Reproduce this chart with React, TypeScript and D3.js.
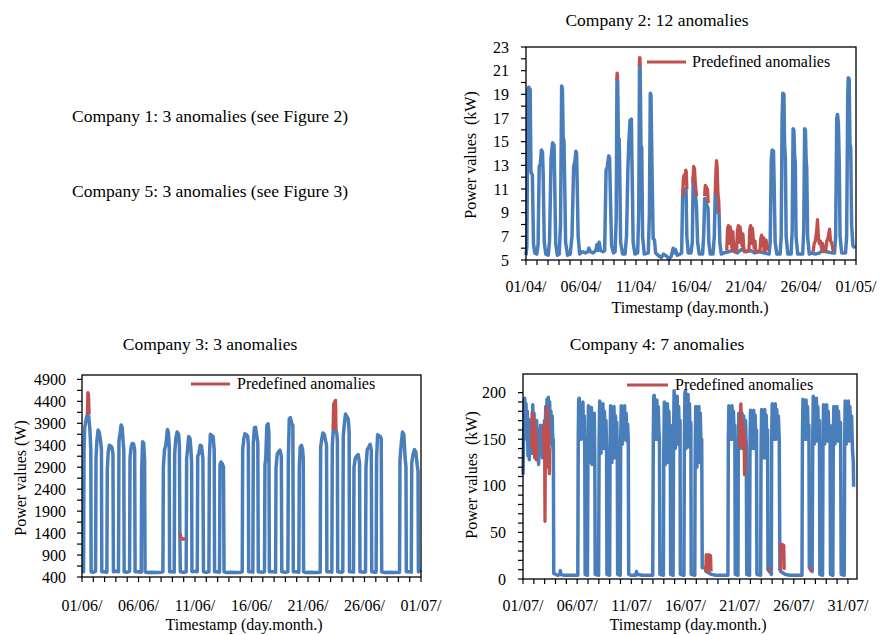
import React from 'react';
import * as d3 from 'd3';

type Pt = [number, number];

const FONT = '"Liberation Serif", "Times New Roman", serif';
const BLUE = '#4a7ebb';
const RED = '#c0504d';

// ---------- Company 2 (April, kW) ----------
const c2XLabels = ['01/04/', '06/04/', '11/04/', '16/04/', '21/04/', '26/04/', '01/05/'];
const c2YTicks = [5, 7, 9, 11, 13, 15, 17, 19, 21, 23];
const c2Blue: Pt[] = [
  [0.0, 5.4], [0.08, 6.2], [0.17, 19.4], [0.25, 19.6], [0.38, 19.4], [0.45, 12.4], [0.58, 12.2], [0.68, 6.4], [0.8, 5.6],
  [0.98, 5.5], [1.1, 6.3], [1.2, 12.9], [1.3, 13.1], [1.4, 14.3], [1.5, 14.1], [1.56, 12.3], [1.66, 6.5], [1.8, 5.5],
  [2.02, 5.4], [2.14, 6.6], [2.28, 13.6], [2.42, 14.9], [2.55, 14.7], [2.6, 12.1], [2.7, 6.4], [2.85, 5.4],
  [3.02, 5.5], [3.14, 8.0], [3.24, 19.7], [3.31, 19.5], [3.38, 15.3], [3.45, 15.1], [3.5, 12.5], [3.6, 6.5], [3.78, 5.4],
  [4.02, 5.5], [4.18, 7.0], [4.33, 12.9], [4.45, 13.3], [4.53, 14.2], [4.6, 14.0], [4.65, 11.6], [4.74, 7.0], [4.88, 5.5],
  [5.1, 5.7], [5.4, 5.6], [5.62, 5.7], [5.72, 6.0], [5.84, 5.7], [6.1, 5.6], [6.35, 5.8], [6.45, 6.3], [6.55, 5.8], [6.65, 6.5], [6.78, 5.8], [7.0, 5.7],
  [7.15, 5.8], [7.28, 12.6], [7.4, 12.9], [7.52, 13.8], [7.6, 13.6], [7.66, 11.0], [7.78, 6.2], [7.95, 5.6],
  [8.1, 5.7], [8.2, 8.5], [8.27, 20.3], [8.33, 20.1], [8.4, 15.3], [8.47, 15.2], [8.52, 12.5], [8.6, 6.5], [8.78, 5.5],
  [9.0, 5.5], [9.14, 7.0], [9.26, 12.6], [9.35, 15.0], [9.46, 16.8], [9.58, 16.9], [9.64, 13.0], [9.74, 6.5], [9.9, 5.5],
  [10.15, 5.6], [10.25, 9.0], [10.32, 21.5], [10.38, 21.3], [10.45, 14.7], [10.52, 14.5], [10.6, 7.0], [10.75, 5.5],
  [11.12, 5.6], [11.22, 9.0], [11.3, 19.1], [11.36, 18.9], [11.46, 12.5], [11.56, 6.8], [11.68, 6.7], [11.78, 5.6],
  [12.0, 5.4], [12.3, 5.2], [12.5, 5.5], [12.8, 5.3], [13.0, 5.1], [13.2, 5.3], [13.38, 6.0], [13.48, 5.6], [13.58, 5.9], [13.75, 5.4], [14.0, 5.5],
  [14.15, 5.6], [14.24, 10.4], [14.38, 10.4], [14.48, 11.0], [14.55, 11.0], [14.62, 7.0], [14.75, 5.6],
  [15.0, 5.6], [15.12, 6.5], [15.2, 12.0], [15.3, 12.0], [15.42, 10.4], [15.5, 9.5], [15.6, 6.5], [15.75, 5.5],
  [16.05, 5.5], [16.15, 7.0], [16.25, 10.2], [16.35, 10.0], [16.45, 9.6], [16.55, 9.4], [16.62, 6.5], [16.75, 5.5],
  [17.0, 5.5], [17.12, 7.0], [17.2, 10.6], [17.3, 10.5], [17.45, 9.0], [17.55, 9.0], [17.62, 6.5], [17.75, 5.5],
  [18.0, 5.6], [18.4, 5.7], [18.8, 5.8], [19.2, 5.6], [19.6, 5.9], [20.0, 5.7], [20.4, 5.8], [20.8, 5.6], [21.2, 5.7], [21.6, 5.6], [22.1, 5.5],
  [22.2, 6.5], [22.3, 13.5], [22.38, 14.3], [22.5, 14.2], [22.55, 11.8], [22.65, 6.5], [22.8, 5.5],
  [23.1, 5.5], [23.2, 7.0], [23.28, 17.0], [23.35, 19.1], [23.45, 19.0], [23.5, 15.0], [23.58, 13.5], [23.65, 7.0], [23.8, 5.5],
  [24.1, 5.5], [24.2, 7.5], [24.28, 16.1], [24.35, 16.0], [24.42, 13.8], [24.48, 13.2], [24.55, 7.0], [24.7, 5.5],
  [25.15, 5.5], [25.25, 7.5], [25.33, 16.1], [25.4, 16.0], [25.47, 13.3], [25.52, 12.8], [25.6, 7.0], [25.75, 5.5],
  [26.0, 5.6], [26.3, 5.5], [26.7, 5.6], [27.1, 6.0], [27.3, 5.7], [27.8, 5.6],
  [28.05, 5.6], [28.15, 7.0], [28.25, 17.0], [28.32, 17.3], [28.4, 16.5], [28.48, 13.0], [28.55, 7.0], [28.7, 5.6],
  [29.05, 5.6], [29.15, 7.0], [29.25, 19.0], [29.3, 20.4], [29.38, 20.3], [29.45, 14.8], [29.52, 14.5], [29.6, 8.0], [29.72, 6.2], [29.92, 6.0],
];
const c2Red: Pt[][] = [
  [[8.26, 20.2], [8.28, 20.8], [8.31, 20.7], [8.32, 20.2]],
  [[10.31, 21.4], [10.33, 22.1], [10.36, 22.1], [10.38, 21.4]],
  [[14.24, 10.4], [14.3, 11.8], [14.38, 12.2], [14.45, 11.5], [14.52, 12.6], [14.58, 12.4], [14.62, 11.0]],
  [[15.18, 11.5], [15.24, 12.9], [15.32, 12.7], [15.38, 11.6], [15.44, 11.0], [15.5, 10.4]],
  [[16.24, 10.4], [16.3, 11.3], [16.38, 11.2], [16.44, 10.8], [16.5, 11.0], [16.56, 9.8]],
  [[17.2, 10.6], [17.26, 12.4], [17.32, 13.4], [17.38, 12.8], [17.45, 10.6], [17.52, 10.0], [17.56, 9.0]],
  [[18.25, 5.8], [18.32, 7.6], [18.4, 7.9], [18.48, 6.4], [18.56, 7.8], [18.64, 7.2], [18.72, 6.0], [18.8, 7.4], [18.9, 6.0], [18.95, 5.7],
   [19.15, 5.8], [19.22, 7.5], [19.3, 7.9], [19.38, 6.5], [19.46, 7.8], [19.55, 7.0], [19.64, 6.2], [19.72, 7.2], [19.8, 6.0], [19.86, 5.7],
   [20.27, 5.8], [20.34, 7.6], [20.42, 7.9], [20.5, 6.4], [20.58, 7.7], [20.66, 6.8], [20.74, 6.0], [20.82, 6.6], [20.88, 5.7],
   [21.27, 5.8], [21.34, 6.8], [21.42, 7.1], [21.5, 6.2], [21.58, 6.9], [21.64, 5.8], [21.73, 5.8], [21.8, 6.7], [21.88, 6.5], [21.96, 5.8]],
  [[26.1, 5.7], [26.2, 6.4], [26.3, 6.6], [26.42, 7.4], [26.5, 8.4], [26.58, 7.0], [26.66, 6.4], [26.76, 6.6], [26.86, 6.0], [26.96, 6.4], [27.06, 5.7],
   [27.25, 5.8], [27.34, 6.6], [27.44, 6.8], [27.52, 7.2], [27.6, 7.6], [27.68, 6.6], [27.78, 6.5], [27.88, 6.0], [27.94, 5.7]],
];

// ---------- Company 3 (June, W) ----------
const c3XLabels = ['01/06/', '06/06/', '11/06/', '16/06/', '21/06/', '26/06/', '01/07/'];
const c3YTicks = [400, 900, 1400, 1900, 2400, 2900, 3400, 3900, 4400, 4900];
const c3Blue: Pt[] = [
  [0.0, 540], [0.14, 520], [0.18, 3300], [0.24, 3800], [0.34, 3950], [0.45, 4080], [0.6, 4060], [0.7, 3750], [0.78, 3300], [0.81, 520],
  [1.0, 510], [1.2, 530], [1.24, 3100], [1.32, 3500], [1.42, 3745], [1.52, 3700], [1.62, 3550], [1.72, 3300], [1.75, 520],
  [2.0, 520], [2.2, 510], [2.24, 2850], [2.32, 3250], [2.42, 3400], [2.55, 3380], [2.65, 3350], [2.74, 3200], [2.78, 520],
  [3.0, 530], [3.23, 520], [3.27, 3500], [3.36, 3650], [3.46, 3860], [3.56, 3800], [3.66, 3400], [3.7, 3300], [3.73, 520],
  [4.0, 510], [4.21, 530], [4.25, 3100], [4.34, 3350], [4.44, 3440], [4.56, 3430], [4.66, 3300], [4.7, 520],
  [5.0, 520], [5.24, 510], [5.28, 2800], [5.36, 3480], [5.46, 3450], [5.54, 3050], [5.58, 520],
  [5.8, 500], [6.2, 510], [6.6, 500], [7.0, 510], [7.16, 520],
  [7.2, 2900], [7.3, 3300], [7.42, 3400], [7.56, 3760], [7.64, 3700], [7.72, 3400], [7.75, 520],
  [8.0, 520], [8.16, 510], [8.2, 3200], [8.3, 3550], [8.42, 3700], [8.55, 3650], [8.62, 3400], [8.66, 1400], [8.7, 520],
  [9.0, 510], [9.22, 520], [9.26, 3100], [9.34, 3300], [9.44, 3600], [9.56, 3550], [9.64, 3300], [9.7, 3000], [9.73, 520],
  [10.0, 530], [10.2, 520], [10.24, 3150], [10.34, 3200], [10.46, 3400], [10.58, 3380], [10.7, 3100], [10.75, 520],
  [11.0, 510], [11.23, 520], [11.27, 3100], [11.36, 3650], [11.48, 3620], [11.6, 3600], [11.7, 3300], [11.73, 520],
  [12.0, 520], [12.17, 510], [12.21, 2950], [12.3, 3020], [12.42, 2980], [12.52, 2900], [12.57, 520],
  [12.8, 500], [13.2, 510], [13.6, 500], [14.0, 510], [14.18, 520],
  [14.22, 3300], [14.32, 3550], [14.42, 3660], [14.56, 3640], [14.66, 3600], [14.72, 3400], [14.75, 520],
  [15.0, 520], [15.12, 510], [15.16, 3450], [15.26, 3800], [15.36, 3810], [15.48, 3600], [15.56, 3450], [15.6, 520],
  [16.0, 510], [16.15, 520], [16.19, 2950], [16.26, 3100], [16.36, 3850], [16.46, 3890], [16.54, 3700], [16.58, 520],
  [17.0, 520], [17.13, 510], [17.17, 2900], [17.28, 3200], [17.4, 3250], [17.52, 3290], [17.64, 3150], [17.68, 520],
  [18.0, 510], [18.22, 520], [18.26, 3050], [18.34, 4000], [18.44, 4030], [18.56, 3900], [18.66, 3850], [18.7, 520],
  [19.0, 520], [19.19, 510], [19.23, 2900], [19.31, 3350], [19.42, 3400], [19.52, 3300], [19.58, 3100], [19.61, 520],
  [19.8, 500], [20.2, 510], [20.6, 500], [21.08, 510],
  [21.12, 3350], [21.22, 3550], [21.32, 3680], [21.44, 3650], [21.56, 3500], [21.64, 3400], [21.67, 520],
  [22.0, 520], [22.11, 510], [22.15, 3400], [22.24, 3750], [22.34, 3780], [22.46, 3750], [22.56, 3650], [22.6, 3500], [22.63, 520],
  [23.0, 510], [23.08, 520], [23.12, 3600], [23.22, 3900], [23.32, 4110], [23.44, 4050], [23.56, 4000], [23.64, 3700], [23.67, 520],
  [24.0, 520], [24.03, 510], [24.07, 2900], [24.18, 3100], [24.3, 3150], [24.44, 3190], [24.56, 3000], [24.6, 520],
  [25.0, 510], [25.09, 520], [25.13, 2900], [25.24, 3300], [25.36, 3350], [25.5, 3420], [25.6, 3300], [25.64, 520],
  [26.0, 510], [26.03, 520], [26.07, 3100], [26.16, 3640], [26.28, 3620], [26.4, 3600], [26.48, 3550], [26.52, 520],
  [26.8, 500], [27.2, 510], [27.6, 500], [28.1, 510],
  [28.14, 3050], [28.24, 3400], [28.36, 3700], [28.48, 3650], [28.6, 3100], [28.67, 2900], [28.7, 520],
  [29.0, 520], [29.14, 510], [29.18, 3000], [29.3, 3200], [29.42, 3300], [29.54, 3250], [29.66, 2950], [29.74, 2800], [29.77, 520], [30.0, 560],
];
const c3Red: Pt[][] = [
  [[0.48, 4100], [0.52, 4600], [0.58, 4550], [0.63, 4100]],
  [[8.68, 1400], [8.74, 1300], [8.86, 1270], [9.0, 1260], [9.2, 1270]],
  [[22.22, 3750], [22.27, 4330], [22.36, 4390], [22.44, 4420], [22.48, 3750]],
];

// ---------- Company 4 (July, kW) ----------
const c4XLabels = ['01/07/', '06/07/', '11/07/', '16/07/', '21/07/', '26/07/', '31/07/'];
const c4YTicks = [0, 50, 100, 150, 200];
const c4Blue: Pt[] = [
  [0.0, 112], [0.05, 150], [0.1, 185], [0.16, 194], [0.22, 170], [0.28, 188], [0.34, 150], [0.4, 180], [0.46, 132], [0.52, 165],
  [0.58, 128], [0.64, 171], [0.7, 140], [0.76, 160], [0.82, 135], [0.9, 187], [0.96, 160], [1.02, 178], [1.08, 131], [1.14, 165],
  [1.2, 140], [1.26, 170], [1.32, 128], [1.38, 160], [1.44, 123], [1.5, 150], [1.56, 140], [1.62, 165], [1.68, 135], [1.74, 150],
  [1.8, 130], [1.86, 160], [1.92, 145], [1.98, 170], [2.04, 150], [2.1, 185], [2.16, 165], [2.22, 193], [2.28, 170], [2.34, 195],
  [2.4, 175], [2.46, 190], [2.52, 150], [2.58, 180], [2.64, 145], [2.7, 175], [2.76, 140], [2.8, 150], [2.84, 6],
  [3.2, 4], [3.4, 5], [3.45, 9], [3.5, 5], [3.8, 4], [4.3, 4], [4.8, 4], [5.06, 4],
  [5.1, 150], [5.14, 192], [5.19, 194], [5.24, 155], [5.29, 188], [5.35, 150], [5.41, 185], [5.47, 160], [5.53, 190], [5.6, 150], [5.66, 175], [5.7, 140], [5.74, 5], [5.95, 4],
  [6.0, 140], [6.04, 186], [6.09, 180], [6.14, 125], [6.2, 175], [6.26, 145], [6.32, 184], [6.38, 123], [6.45, 170], [6.52, 140], [6.58, 178], [6.63, 130], [6.67, 5], [6.98, 4],
  [7.03, 150], [7.08, 191], [7.14, 185], [7.2, 135], [7.26, 182], [7.32, 150], [7.38, 188], [7.45, 140], [7.52, 180], [7.6, 150], [7.66, 170], [7.72, 135], [7.75, 5], [8.0, 4],
  [8.04, 145], [8.09, 186], [8.15, 178], [8.21, 125], [8.27, 183], [8.33, 150], [8.4, 185], [8.47, 130], [8.54, 175], [8.6, 150], [8.66, 168], [8.71, 130], [8.74, 5], [8.98, 4],
  [9.02, 150], [9.07, 186], [9.13, 180], [9.19, 145], [9.25, 184], [9.31, 155], [9.38, 186], [9.45, 150], [9.52, 178], [9.6, 148], [9.66, 166], [9.72, 150], [9.76, 5],
  [10.0, 4], [10.4, 4], [10.48, 8], [10.55, 5], [11.0, 4], [11.5, 4], [11.98, 4],
  [12.03, 150], [12.07, 196], [12.12, 197], [12.18, 150], [12.24, 190], [12.3, 160], [12.36, 192], [12.42, 150], [12.48, 185], [12.55, 160], [12.6, 150], [12.64, 5], [12.96, 4],
  [13.0, 135], [13.05, 190], [13.1, 185], [13.16, 123], [13.22, 185], [13.28, 140], [13.34, 188], [13.4, 125], [13.47, 180], [13.54, 150], [13.6, 165], [13.63, 5], [13.86, 4],
  [13.9, 150], [13.95, 202], [14.0, 195], [14.06, 140], [14.12, 190], [14.18, 150], [14.24, 196], [14.3, 145], [14.37, 185], [14.44, 155], [14.5, 170], [14.53, 5], [14.86, 4],
  [14.9, 145], [14.95, 200], [15.0, 202], [15.06, 140], [15.12, 192], [15.18, 150], [15.24, 198], [15.3, 142], [15.37, 188], [15.44, 150], [15.5, 168], [15.53, 5], [15.86, 4],
  [15.9, 140], [15.95, 185], [16.0, 182], [16.06, 120], [16.12, 180], [16.18, 140], [16.24, 185], [16.3, 125], [16.37, 178], [16.44, 140], [16.5, 150], [16.55, 12], [16.85, 12], [16.9, 8], [17.4, 5],
  [17.8, 4], [18.3, 4], [18.92, 4],
  [18.96, 150], [19.01, 186], [19.06, 182], [19.12, 150], [19.18, 184], [19.24, 155], [19.3, 186], [19.36, 150], [19.43, 180], [19.5, 155], [19.56, 165], [19.6, 5], [19.85, 4],
  [19.88, 140], [19.93, 178], [19.98, 175], [20.04, 140], [20.1, 176], [20.16, 145], [20.22, 178], [20.3, 140], [20.38, 175], [20.46, 145], [20.55, 170], [20.62, 140], [20.66, 5], [20.92, 4],
  [20.96, 145], [21.01, 181], [21.06, 178], [21.12, 140], [21.18, 180], [21.24, 148], [21.3, 181], [21.36, 140], [21.43, 176], [21.5, 150], [21.56, 160], [21.6, 5], [21.94, 4],
  [21.98, 135], [22.03, 182], [22.08, 178], [22.14, 130], [22.2, 180], [22.26, 140], [22.32, 182], [22.38, 130], [22.45, 176], [22.52, 145], [22.58, 160], [22.62, 10], [22.9, 6], [22.93, 5],
  [22.96, 150], [23.01, 188], [23.06, 184], [23.12, 150], [23.18, 186], [23.24, 155], [23.3, 188], [23.36, 150], [23.43, 182], [23.5, 155], [23.58, 175], [23.66, 150], [23.72, 10], [23.8, 8], [24.2, 5],
  [24.6, 4], [25.2, 4], [25.76, 4],
  [25.8, 150], [25.85, 193], [25.9, 188], [25.96, 150], [26.02, 190], [26.08, 155], [26.14, 192], [26.2, 150], [26.27, 185], [26.34, 155], [26.4, 165], [26.44, 12], [26.7, 8],
  [26.75, 145], [26.8, 196], [26.85, 190], [26.91, 145], [26.97, 192], [27.03, 150], [27.09, 194], [27.15, 148], [27.22, 185], [27.3, 150], [27.37, 170], [27.41, 5], [27.66, 4],
  [27.7, 145], [27.75, 187], [27.8, 183], [27.86, 145], [27.92, 185], [27.98, 150], [28.04, 187], [28.1, 148], [28.18, 180], [28.26, 150], [28.35, 165], [28.39, 5], [28.61, 4],
  [28.65, 145], [28.7, 185], [28.75, 182], [28.81, 145], [28.87, 184], [28.93, 150], [28.99, 185], [29.05, 148], [29.13, 180], [29.22, 150], [29.32, 168], [29.38, 5], [29.66, 4],
  [29.7, 145], [29.75, 191], [29.8, 188], [29.86, 145], [29.92, 189], [29.98, 150], [30.04, 191], [30.1, 148], [30.18, 185], [30.26, 150], [30.34, 175], [30.42, 140], [30.5, 125], [30.53, 99],
];
const c4Red: Pt[][] = [
  [[0.82, 140], [0.85, 178], [0.9, 150], [0.95, 175], [1.0, 136], [1.05, 168], [1.1, 130], [1.16, 160], [1.22, 128], [1.28, 145]],
  [[1.86, 150], [1.9, 165], [1.95, 135], [1.99, 160], [2.03, 62], [2.07, 140], [2.1, 160]],
  [[2.15, 125], [2.19, 185], [2.24, 150], [2.29, 178], [2.34, 120], [2.38, 160], [2.43, 113], [2.46, 140]],
  [[16.88, 8], [16.92, 26], [17.05, 25], [17.1, 8], [17.15, 26], [17.32, 25], [17.36, 8]],
  [[20.0, 140], [20.05, 165], [20.12, 188], [20.18, 160], [20.25, 170], [20.32, 145], [20.4, 160], [20.46, 112], [20.52, 150]],
  [[22.64, 12], [22.72, 9], [22.8, 8]],
  [[23.78, 10], [23.82, 37], [23.95, 37], [24.08, 36], [24.12, 10]],
  [[26.48, 13], [26.56, 10], [26.64, 8]],
];

interface PanelProps {
  left: number; right: number; top: number; bottom: number;
  xMax: number; yDomain: [number, number]; yTicks: number[]; yMinorStep: number;
  xLabels: string[]; blue: Pt[]; red: Pt[][];
  title: string; titleX: number; titleY: number;
  yTitle: string; yTitleX: number; yTitleY: number;
  xTitleX: number; xTitleY: number; xLabelY: number; yLabelGap: number;
  legX1: number; legX2: number; legY: number; legTextX: number;
}

function Panel(p: PanelProps) {
  const x = d3.scaleLinear().domain([0, p.xMax]).range([p.left, p.right]);
  const y = d3.scaleLinear().domain(p.yDomain).range([p.bottom, p.top]);
  const line = d3.line<Pt>().x(d => x(d[0])).y(d => y(d[1]));
  const xTicks = d3.range(0, Math.floor(p.xMax + 1e-6) + 1);
  const yMax = p.yTicks[p.yTicks.length - 1];
  const yMinor = d3.range(p.yDomain[0], yMax + 1e-6, p.yMinorStep);
  const fs = 16;
  return (
    <g fontFamily={FONT} fill="#000">
      <text x={p.titleX} y={p.titleY} textAnchor="middle" fontSize={17.5}>{p.title}</text>
      <path d={line(p.blue) || ''} fill="none" stroke={BLUE} strokeWidth={3.5} strokeLinejoin="round" />
      {p.red.map((seg, i) => (
        <path key={i} d={line(seg) || ''} fill="none" stroke={RED} strokeWidth={3.3} strokeLinejoin="round" />
      ))}
      <rect x={p.left} y={p.top} width={p.right - p.left} height={p.bottom - p.top} fill="none" stroke="#000" strokeWidth={1.3} />
      {xTicks.map(t => (
        <line key={'xt' + t} x1={x(t)} x2={x(t)} y1={p.bottom} y2={p.bottom + 5} stroke="#000" strokeWidth={1.2} />
      ))}
      {yMinor.map(t => (
        <line key={'yt' + t} x1={p.left - 5} x2={p.left} y1={y(t)} y2={y(t)} stroke="#000" strokeWidth={1.2} />
      ))}
      {p.yTicks.map(t => (
        <text key={'yl' + t} x={p.left - p.yLabelGap} y={y(t)} dy="0.35em" textAnchor="end" fontSize={fs}>{t}</text>
      ))}
      {p.xLabels.map((l, i) => (
        <text key={'xl' + i} x={x(i * 5)} y={p.xLabelY} textAnchor="middle" fontSize={fs}>{l}</text>
      ))}
      <text x={p.xTitleX} y={p.xTitleY} textAnchor="middle" fontSize={fs}>Timestamp (day.month.)</text>
      <text transform={`translate(${p.yTitleX},${p.yTitleY}) rotate(-90)`} textAnchor="middle" fontSize={fs} style={{ whiteSpace: 'pre' }}>{p.yTitle}</text>
      <line x1={p.legX1} x2={p.legX2} y1={p.legY} y2={p.legY} stroke={RED} strokeWidth={3} />
      <text x={p.legTextX} y={p.legY + 5} fontSize={fs}>Predefined anomalies</text>
    </g>
  );
}

export default function App() {
  return (
    <svg width={884} height={635} style={{ position: 'absolute', left: 0, top: 0, background: '#fff' }}>
      <rect x={0} y={0} width={884} height={635} fill="#fff" />
      <text x={72} y={122} fontFamily={FONT} fontSize={17.5}>Company 1: 3 anomalies (see Figure 2)</text>
      <text x={72} y={197} fontFamily={FONT} fontSize={17.5}>Company 5: 3 anomalies (see Figure 3)</text>
      <Panel
        left={526} right={856} top={47} bottom={260}
        xMax={30} yDomain={[5, 23]} yTicks={c2YTicks} yMinorStep={1}
        xLabels={c2XLabels} blue={c2Blue} red={c2Red}
        title="Company 2: 12 anomalies" titleX={657} titleY={26}
        yTitle="Power values  (kW)" yTitleX={476} yTitleY={155}
        xTitleX={690} xTitleY={313} xLabelY={292} yLabelGap={17}
        legX1={647} legX2={686} legY={62} legTextX={692}
      />
      <Panel
        left={82} right={421} top={375} bottom={577}
        xMax={30} yDomain={[400, 5000]} yTicks={c3YTicks} yMinorStep={250}
        xLabels={c3XLabels} blue={c3Blue} red={c3Red}
        title="Company 3: 3 anomalies" titleX={210} titleY={350}
        yTitle="Power values (W)" yTitleX={26} yTitleY={478}
        xTitleX={244} xTitleY={630} xLabelY={611} yLabelGap={16}
        legX1={191} legX2={230} legY={384} legTextX={237}
      />
      <Panel
        left={523} right={857} top={374} bottom={579}
        xMax={30.84} yDomain={[0, 220]} yTicks={c4YTicks} yMinorStep={10}
        xLabels={c4XLabels} blue={c4Blue} red={c4Red}
        title="Company 4: 7 anomalies" titleX={657} titleY={350}
        yTitle="Power values  (kW)" yTitleX={477} yTitleY={475}
        xTitleX={688} xTitleY={630} xLabelY={611} yLabelGap={17}
        legX1={627} legX2={668} legY={385} legTextX={675}
      />
    </svg>
  );
}
